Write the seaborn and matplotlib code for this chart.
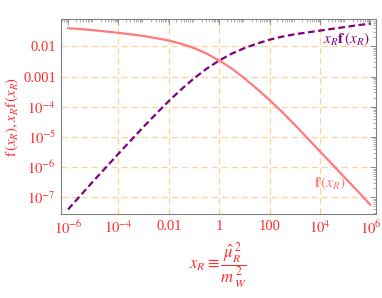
import numpy as np
import pandas as pd
import matplotlib
matplotlib.use("Agg")
import matplotlib.pyplot as plt
import matplotlib.ticker as mticker
import seaborn as sns

# data (log10 values, half-decade steps)
log_x = [-6.0, -5.5, -5.0, -4.5, -4.0, -3.5, -3.0, -2.5, -2.0, -1.5, -1.0, -0.5, 0.0,
         0.5, 1.0, 1.5, 2.0, 2.5, 3.0, 3.5, 4.0, 4.5, 5.0, 5.5, 6.0]
log_f = [-1.40, -1.43, -1.465, -1.51, -1.555, -1.605, -1.66, -1.73, -1.81, -1.92, -2.06,
         -2.24, -2.47, -2.74, -3.06, -3.41, -3.78, -4.18, -4.60, -5.04, -5.48, -5.92,
         -6.36, -6.80, -7.25]
log_xf = [-7.40, -6.93, -6.465, -6.01, -5.555, -5.105, -4.66, -4.23, -3.81, -3.42, -3.06,
          -2.74, -2.47, -2.24, -2.06, -1.91, -1.78, -1.68, -1.60, -1.54, -1.48, -1.42,
          -1.36, -1.30, -1.25]
x_ticks = [1e-6, 1e-4, 1e-2, 1, 1e2, 1e4, 1e6]
x_ticklabels = [r"$10^{-6}$", r"$10^{-4}$", "0.01", "1", "100", r"$10^{4}$", r"$10^{6}$"]
y_ticks = [1e-2, 1e-3, 1e-4, 1e-5, 1e-6, 1e-7]
y_ticklabels = ["0.01", "0.001", r"$10^{-4}$", r"$10^{-5}$", r"$10^{-6}$", r"$10^{-7}$"]
grid_x = [1e-4, 1e-2, 1, 1e2, 1e4]

sns.set_style("white")
plt.rcParams["font.family"] = ["Liberation Serif", "DejaVu Serif"]
plt.rcParams["mathtext.fontset"] = "stix"

RED = "#FF2A2A"
SALMON = "#FF7A7A"
PURPLE = "#800080"
GRID = "#FFD09A"

xs = list(10.0 ** np.array(log_x))
df = pd.DataFrame({"x": xs + xs,
                   "y": list(10.0 ** np.array(log_f)) + list(10.0 ** np.array(log_xf)),
                   "series": ["f"] * len(xs) + ["xf"] * len(xs)})

fig = plt.figure(figsize=(3.82, 2.98), dpi=100)
ax = fig.add_axes([61.5 / 382, 1 - 214 / 298, (376 - 61.5) / 382, (214 - 19) / 298])

sns.lineplot(data=df, x="x", y="y", hue="series", style="series",
             palette={"f": SALMON, "xf": PURPLE},
             dashes={"f": "", "xf": (3, 1.6)}, linewidth=1.6,
             legend=False, ax=ax, sort=False)
ax.set_xscale("log")
ax.set_yscale("log")
ax.set_xlim(10 ** -6.26, 10 ** 6.22)
ax.set_ylim(10 ** -7.55, 10 ** -1.096)

ax.set_xticks(x_ticks)
ax.set_xticklabels(x_ticklabels)
ax.set_yticks(y_ticks)
ax.set_yticklabels(y_ticklabels)
ax.xaxis.set_minor_locator(mticker.LogLocator(base=10, subs=np.arange(2, 10), numticks=100))
ax.yaxis.set_minor_locator(mticker.LogLocator(base=10, subs=np.arange(2, 10), numticks=100))
ax.xaxis.set_minor_formatter(mticker.NullFormatter())
ax.yaxis.set_minor_formatter(mticker.NullFormatter())

ax.tick_params(which="major", direction="in", length=4, width=0.6, color="#808080",
               labelcolor=RED, labelsize=10.5, top=True, right=True, pad=4)
ax.tick_params(which="minor", direction="in", length=2, width=0.5, color="#909090",
               top=True, right=True)

for gx in grid_x:
    ax.axvline(gx, color=GRID, lw=0.9, ls=(0, (5, 3)), zorder=0)
for gy in y_ticks:
    ax.axhline(gy, color=GRID, lw=0.9, ls=(0, (5, 3)), zorder=0)

for s in ax.spines.values():
    s.set_color("#808080")
    s.set_linewidth(0.8)

ax.set_xlabel("")
ax.set_ylabel("")

ax.text(10 ** 5.03, 10 ** -1.78, r"$x_R\mathbf{f}\,(x_R)$", color=PURPLE,
        fontsize=11, ha="center", va="center")
ax.text(10 ** 4.4, 10 ** -6.53, r"$\mathbf{f}\,(x_R)$", color=SALMON,
        fontsize=11, ha="center", va="center")

fig.text(218 / 382, 1 - 265 / 298, r"$x_R \equiv \dfrac{\hat{\mu}_R^{\,2}}{m_{\,W}^{\,2}}$",
         color=RED, fontsize=12, ha="center", va="center")
fig.text(12 / 382, 1 - 117 / 298, r"$\mathrm{f}\,(x_R),x_R\mathrm{f}\,(x_R)$",
         color=RED, fontsize=10.5, ha="center", va="center", rotation=90)

fig.savefig("out.png", dpi=100)
